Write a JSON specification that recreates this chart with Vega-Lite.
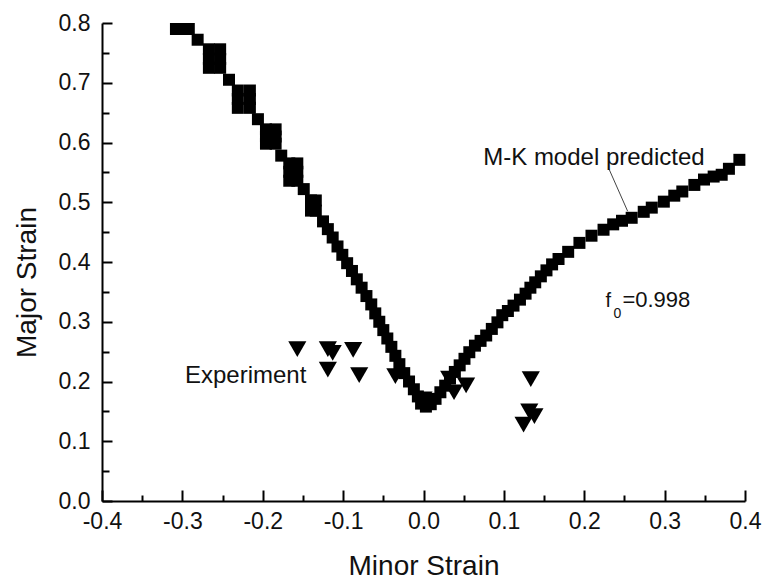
{
  "$schema": "https://vega.github.io/schema/vega-lite/v6.json",
  "width": 643,
  "height": 478,
  "autosize": {"type": "none"},
  "padding": {"left": 102, "top": 23, "right": 21, "bottom": 82},
  "background": "white",
  "config": {
    "view": {"stroke": null},
    "font": "Liberation Sans",
    "axis": {
      "grid": false,
      "domainColor": "black",
      "domainWidth": 2,
      "tickColor": "black",
      "tickWidth": 2,
      "labelColor": "#111",
      "labelFont": "Liberation Sans",
      "labelFontSize": 23,
      "titleFont": "Liberation Sans",
      "titleFontSize": 28,
      "titleFontWeight": "normal",
      "titleColor": "#111",
      "labelFlush": false,
      "labelOverlap": false,
      "labelBound": false
    }
  },
  "datasets": {
    "model": [
      {"x": -0.308, "y": 0.790}, {"x": -0.300, "y": 0.790}, {"x": -0.292, "y": 0.790},
      {"x": -0.281, "y": 0.772},
      {"x": -0.267, "y": 0.756}, {"x": -0.253, "y": 0.756},
      {"x": -0.267, "y": 0.740}, {"x": -0.253, "y": 0.740},
      {"x": -0.267, "y": 0.725}, {"x": -0.253, "y": 0.725},
      {"x": -0.242, "y": 0.705},
      {"x": -0.231, "y": 0.687}, {"x": -0.216, "y": 0.687},
      {"x": -0.231, "y": 0.673}, {"x": -0.216, "y": 0.673},
      {"x": -0.231, "y": 0.658}, {"x": -0.216, "y": 0.658},
      {"x": -0.206, "y": 0.639},
      {"x": -0.196, "y": 0.622}, {"x": -0.184, "y": 0.622},
      {"x": -0.196, "y": 0.610}, {"x": -0.184, "y": 0.610},
      {"x": -0.196, "y": 0.598}, {"x": -0.184, "y": 0.598},
      {"x": -0.177, "y": 0.578},
      {"x": -0.167, "y": 0.565}, {"x": -0.157, "y": 0.565},
      {"x": -0.167, "y": 0.551}, {"x": -0.157, "y": 0.551},
      {"x": -0.167, "y": 0.536}, {"x": -0.157, "y": 0.536},
      {"x": -0.149, "y": 0.522},
      {"x": -0.140, "y": 0.503}, {"x": -0.134, "y": 0.503},
      {"x": -0.140, "y": 0.486}, {"x": -0.134, "y": 0.486},
      {"x": -0.125, "y": 0.468}, {"x": -0.119, "y": 0.455}, {"x": -0.113, "y": 0.441},
      {"x": -0.107, "y": 0.426}, {"x": -0.101, "y": 0.412}, {"x": -0.095, "y": 0.398},
      {"x": -0.089, "y": 0.385}, {"x": -0.083, "y": 0.371}, {"x": -0.077, "y": 0.357},
      {"x": -0.071, "y": 0.343}, {"x": -0.065, "y": 0.329}, {"x": -0.060, "y": 0.314},
      {"x": -0.055, "y": 0.300}, {"x": -0.050, "y": 0.286}, {"x": -0.045, "y": 0.272},
      {"x": -0.040, "y": 0.258}, {"x": -0.035, "y": 0.243}, {"x": -0.030, "y": 0.229},
      {"x": -0.024, "y": 0.214}, {"x": -0.018, "y": 0.200}, {"x": -0.012, "y": 0.187},
      {"x": -0.007, "y": 0.175}, {"x": -0.003, "y": 0.163}, {"x": 0.003, "y": 0.158},
      {"x": 0.009, "y": 0.162}, {"x": 0.002, "y": 0.170},
      {"x": 0.015, "y": 0.171}, {"x": 0.021, "y": 0.182}, {"x": 0.027, "y": 0.193},
      {"x": 0.033, "y": 0.205}, {"x": 0.039, "y": 0.216}, {"x": 0.045, "y": 0.227},
      {"x": 0.051, "y": 0.238}, {"x": 0.057, "y": 0.249}, {"x": 0.064, "y": 0.260},
      {"x": 0.071, "y": 0.268}, {"x": 0.078, "y": 0.277}, {"x": 0.085, "y": 0.288},
      {"x": 0.092, "y": 0.299}, {"x": 0.098, "y": 0.311}, {"x": 0.105, "y": 0.318},
      {"x": 0.112, "y": 0.327}, {"x": 0.120, "y": 0.337}, {"x": 0.127, "y": 0.347},
      {"x": 0.133, "y": 0.357}, {"x": 0.139, "y": 0.366}, {"x": 0.146, "y": 0.376},
      {"x": 0.153, "y": 0.386}, {"x": 0.160, "y": 0.396}, {"x": 0.168, "y": 0.405},
      {"x": 0.180, "y": 0.417}, {"x": 0.194, "y": 0.432}, {"x": 0.209, "y": 0.444},
      {"x": 0.224, "y": 0.454}, {"x": 0.236, "y": 0.463}, {"x": 0.247, "y": 0.469},
      {"x": 0.259, "y": 0.474}, {"x": 0.274, "y": 0.484}, {"x": 0.284, "y": 0.491},
      {"x": 0.299, "y": 0.501}, {"x": 0.312, "y": 0.511}, {"x": 0.322, "y": 0.518},
      {"x": 0.337, "y": 0.529}, {"x": 0.349, "y": 0.538}, {"x": 0.361, "y": 0.543},
      {"x": 0.371, "y": 0.546}, {"x": 0.380, "y": 0.556}, {"x": 0.393, "y": 0.571}
    ],
    "experiment": [
      {"x": -0.157, "y": 0.254}, {"x": -0.119, "y": 0.254}, {"x": -0.113, "y": 0.248},
      {"x": -0.0875, "y": 0.253}, {"x": -0.119, "y": 0.220}, {"x": -0.080, "y": 0.2105},
      {"x": -0.035, "y": 0.209}, {"x": 0.000, "y": 0.170}, {"x": 0.032, "y": 0.205},
      {"x": 0.053, "y": 0.1935}, {"x": 0.038, "y": 0.182}, {"x": 0.1335, "y": 0.204},
      {"x": 0.1245, "y": 0.128}, {"x": 0.138, "y": 0.142}, {"x": 0.1316, "y": 0.150}
    ],
    "labels": [
      {"x": 0.0743, "y": 0.563, "label": "M-K model predicted"},
      {"x": -0.2968, "y": 0.198, "label": "Experiment"}
    ],
    "fsym": [{"x": 0.2263, "y": 0.325, "label": "f"}],
    "fsub": [{"x": 0.2365, "y": 0.3067, "label": "0"}],
    "fval": [{"x": 0.2475, "y": 0.325, "label": "=0.998"}],
    "leader": [{"x": 0.231, "y": 0.555, "x2": 0.254, "y2": 0.485}]
  },
  "encoding": {
    "x": {
      "field": "x",
      "type": "quantitative",
      "scale": {"domain": [-0.4, 0.4], "nice": false, "zero": false},
      "axis": {
        "title": "Minor Strain",
        "values": [-0.4, -0.35, -0.3, -0.25, -0.2, -0.15, -0.1, -0.05, 0, 0.05, 0.1, 0.15, 0.2, 0.25, 0.3, 0.35, 0.4],
        "format": ".1f",
        "labelExpr": "abs(round(datum.value*20)) % 2 == 1 ? '' : replace(datum.label, '−', '-')",
        "tickSize": {"condition": {"test": "abs(round(datum.value*20)) % 2 == 0", "value": -11}, "value": -6},
        "labelPadding": 20,
        "titleY": 73,
        "titleBaseline": "alphabetic"
      }
    },
    "y": {
      "field": "y",
      "type": "quantitative",
      "scale": {"domain": [0, 0.8], "nice": false, "zero": false},
      "axis": {
        "title": "Major Strain",
        "values": [0, 0.05, 0.1, 0.15, 0.2, 0.25, 0.3, 0.35, 0.4, 0.45, 0.5, 0.55, 0.6, 0.65, 0.7, 0.75, 0.8],
        "format": ".1f",
        "labelExpr": "abs(round(datum.value*20)) % 2 == 1 ? '' : datum.label",
        "tickSize": {"condition": {"test": "abs(round(datum.value*20)) % 2 == 0", "value": -10}, "value": -7},
        "labelPadding": 22,
        "titleX": -67,
        "titleY": 259,
        "titleAngle": 270,
        "titleBaseline": "alphabetic",
        "titleAlign": "center"
      }
    }
  },
  "layer": [
    {
      "data": {"name": "model"},
      "mark": {"type": "point", "shape": "square", "filled": true, "size": 144, "color": "black", "opacity": 1, "strokeWidth": 0}
    },
    {
      "data": {"name": "experiment"},
      "mark": {"type": "point", "shape": "triangle-down", "filled": true, "size": 330, "color": "black", "opacity": 1, "strokeWidth": 0}
    },
    {
      "data": {"name": "leader"},
      "mark": {"type": "rule", "color": "#444", "strokeWidth": 1},
      "encoding": {"x2": {"field": "x2"}, "y2": {"field": "y2"}}
    },
    {
      "data": {"name": "labels"},
      "mark": {"type": "text", "align": "left", "baseline": "alphabetic", "fontSize": 24, "color": "#111", "font": "Liberation Sans"},
      "encoding": {"text": {"field": "label"}}
    },
    {
      "data": {"name": "fsym"},
      "mark": {"type": "text", "align": "left", "baseline": "alphabetic", "fontSize": 20, "color": "#111", "font": "Liberation Sans"},
      "encoding": {"text": {"field": "label"}}
    },
    {
      "data": {"name": "fsub"},
      "mark": {"type": "text", "align": "left", "baseline": "alphabetic", "fontSize": 14, "color": "#111", "font": "Liberation Sans"},
      "encoding": {"text": {"field": "label"}}
    },
    {
      "data": {"name": "fval"},
      "mark": {"type": "text", "align": "left", "baseline": "alphabetic", "fontSize": 22, "color": "#111", "font": "Liberation Sans"},
      "encoding": {"text": {"field": "label"}}
    }
  ]
}
